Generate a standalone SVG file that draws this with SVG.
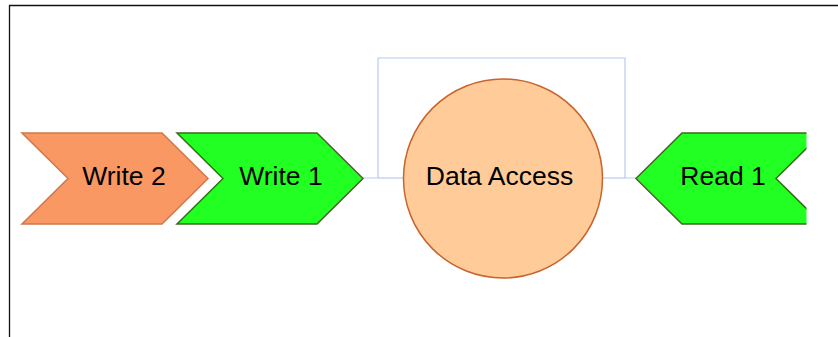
<svg xmlns="http://www.w3.org/2000/svg" width="838" height="337" viewBox="0 0 838 337">
<style>
  .lbl{font-family:"Liberation Sans",Arial,sans-serif;font-size:26.5px;fill:#000;text-anchor:middle}
  .conn{fill:none;stroke:#B8CCE8;stroke-width:1.2}
  .green{fill:#22FF22;stroke:#3C6A1E;stroke-width:1.5}
  .orange{fill:#FA9864;stroke:#D0784A;stroke-width:1.5}
</style>
<defs>
  <clipPath id="clipR"><rect x="0" y="0" width="806.5" height="337"/></clipPath>
</defs>
<rect x="0" y="0" width="838" height="337" fill="#fff"/>
<path d="M9.5 337 V5.5 H838" fill="none" stroke="#111" stroke-width="1.3"/>
<g id="connectors">
  <path class="conn" d="M363 178 H378 V58 H625 V178 H636"/>
  <path class="conn" d="M378 178 H404"/>
  <path class="conn" d="M602 178 H625"/>
</g>
<g id="write2">
  <polygon class="orange" points="22,133 162,133 208,178.5 162,224 22,224 68,178.5"/>
  <text class="lbl" x="124" y="185">Write 2</text>
</g>
<g id="write1">
  <polygon class="green" points="177,133 317,133 363,178.5 317,224 177,224 223,178.5"/>
  <text class="lbl" x="281" y="185">Write 1</text>
</g>
<g id="data-access">
  <circle cx="503" cy="178.5" r="99.5" fill="#FFCC99" stroke="#C8642C" stroke-width="1.5"/>
  <text class="lbl" x="499.5" y="185">Data Access</text>
</g>
<g id="read1" clip-path="url(#clipR)">
  <polygon class="green" points="636,178.5 682,133 822,133 776,178.5 822,224 682,224"/>
  <text class="lbl" x="723" y="185">Read 1</text>
</g>
</svg>
